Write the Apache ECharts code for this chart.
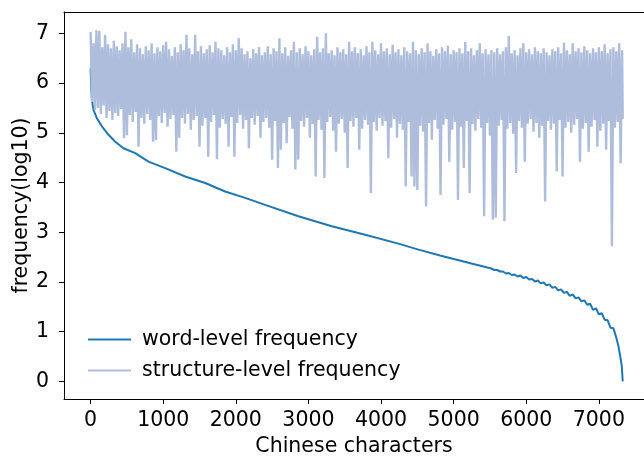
<!DOCTYPE html>
<html>
<head>
<meta charset="utf-8">
<script src="https://cdn.jsdelivr.net/npm/echarts@6/dist/echarts.min.js"></script>
<style>
html,body{margin:0;padding:0;background:#fff;}
#c{width:644px;height:458px;}
</style>
</head>
<body>
<div id="c"></div>
<script>
// ---- data ----
const xTicks = [0, 1000, 2000, 3000, 4000, 5000, 6000, 7000];
const yTicks = [0, 1, 2, 3, 4, 5, 6, 7];
const seriesNames = ['word-level frequency', 'structure-level frequency'];
const xTitle = 'Chinese characters';
const yTitle = 'frequency(log10)';

// word-level frequency (sorted, log10) – character rank vs value
const wordIdx = [0, 8, 18, 40, 87, 156, 246, 339, 453, 614, 797, 1027, 1302, 1578, 1853, 2128, 2404, 2862, 3322, 3781, 4239, 4515, 4813, 5272,
  5520, 5560, 5600, 5640, 5680, 5720, 5760, 5800, 5840, 5880, 5920, 5960, 6000, 6040, 6080, 6120, 6160, 6200, 6240, 6280,
  6320, 6360, 6400, 6440, 6480, 6520, 6560, 6600, 6640, 6680, 6720, 6760, 6800, 6840, 6880, 6920, 6960, 7000, 7040, 7080,
  7120, 7160, 7200, 7240, 7268, 7295, 7315, 7329];
const wordVal = [6.30, 5.93, 5.66, 5.46, 5.29, 5.13, 4.96, 4.82, 4.69, 4.59, 4.42, 4.29, 4.12, 3.99, 3.82, 3.69, 3.55, 3.32, 3.12, 2.95, 2.77, 2.65, 2.53, 2.36,
  2.27, 2.24, 2.24, 2.21, 2.21, 2.17, 2.18, 2.14, 2.15, 2.11, 2.13, 2.08, 2.10, 2.05, 2.06, 2.01, 2.03, 1.97, 1.99, 1.93,
  1.95, 1.88, 1.90, 1.83, 1.85, 1.78, 1.80, 1.72, 1.75, 1.67, 1.69, 1.61, 1.63, 1.54, 1.56, 1.44, 1.47, 1.35, 1.37, 1.24,
  1.23, 1.08, 1.07, 0.88, 0.72, 0.50, 0.32, 0.00];

// structure-level frequency: upper / lower envelope per block of 40 characters
const structStep = 40;
const structLast = 7329;
const structHigh = [
  7.03, 6.80, 7.06, 7.05, 6.72, 6.97, 6.78, 6.70, 6.85, 6.74,
  6.66, 6.80, 7.03, 6.72, 6.88, 6.62, 6.78, 6.70, 6.58, 6.74,
  6.66, 6.80, 6.60, 6.72, 6.64, 6.76, 6.83, 6.68, 6.55, 6.72,
  6.62, 6.78, 6.66, 6.97, 6.70, 6.58, 6.97, 6.64, 6.74, 6.60,
  6.68, 6.76, 6.62, 6.83, 6.70, 6.66, 6.56, 6.72, 6.62, 6.78,
  6.66, 6.90, 6.70, 6.58, 6.64, 6.50, 6.68, 6.60, 6.72, 6.56,
  6.62, 6.74, 6.58, 6.70, 6.64, 6.90, 6.60, 6.72, 6.55, 6.66,
  6.83, 6.62, 6.70, 6.58, 6.74, 6.64, 6.56, 6.68, 6.93, 6.62,
  6.70, 7.00, 6.60, 6.66, 6.56, 6.72, 6.62, 6.68, 6.58, 6.83,
  6.64, 6.72, 6.60, 6.68, 6.56, 6.74, 6.62, 6.83, 6.66, 6.58,
  6.80, 6.64, 6.70, 6.58, 6.77, 6.62, 6.68, 6.56, 6.72, 6.64,
  6.60, 6.83, 6.66, 6.58, 6.70, 6.62, 6.80, 6.64, 6.55, 6.68,
  6.60, 6.72, 6.64, 6.75, 6.58, 6.66, 6.62, 6.70, 6.60, 6.83,
  6.64, 6.70, 6.56, 6.66, 6.80, 6.60, 6.68, 6.58, 6.66, 6.62,
  6.70, 6.58, 6.64, 6.72, 6.95, 6.60, 6.66, 6.56, 6.70, 6.80,
  6.62, 6.68, 6.58, 6.72, 6.64, 6.60, 6.70, 6.62, 6.56, 6.68,
  6.64, 6.72, 6.60, 6.81, 6.66, 6.58, 6.80, 6.64, 6.70, 6.62,
  6.74, 6.66, 6.60, 6.70, 6.62, 6.72, 6.64, 6.78, 6.60, 6.68,
  6.72, 6.64, 6.80, 6.66
];
const structLow = [
  5.62, 5.46, 5.50, 5.38, 5.55, 5.30, 5.44, 5.26, 5.40, 5.34,
  5.48, 4.89, 4.95, 5.36, 5.22, 5.42, 4.72, 5.30, 5.18, 5.38,
  5.26, 4.82, 4.85, 5.34, 5.20, 5.40, 5.12, 5.28, 5.36, 4.62,
  4.90, 5.30, 5.18, 5.38, 5.06, 5.26, 5.34, 4.72, 5.14, 5.30,
  4.52, 5.22, 5.36, 4.47, 5.10, 5.28, 5.18, 4.72, 5.32, 4.52,
  5.20, 5.36, 5.08, 5.26, 4.69, 5.30, 5.16, 5.34, 4.90, 5.22,
  5.30, 5.10, 4.46, 5.24, 4.29, 4.66, 5.20, 4.79, 5.32, 5.08,
  4.26, 4.46, 5.24, 5.12, 5.30, 4.90, 5.18, 4.12, 5.26, 5.06,
  4.09, 5.22, 5.32, 5.04, 4.62, 5.18, 5.28, 5.00, 4.29, 5.24,
  5.12, 5.30, 4.66, 5.08, 5.26, 5.16, 3.79, 5.22, 5.04, 5.30,
  5.14, 5.24, 4.49, 5.10, 5.28, 4.90, 5.18, 5.06, 3.92, 5.22,
  4.12, 3.92, 3.85, 5.14, 5.02, 3.52, 5.20, 4.86, 5.26, 5.08,
  3.75, 5.16, 5.28, 4.42, 5.06, 5.22, 3.65, 5.12, 4.29, 5.24,
  3.79, 5.18, 5.04, 5.28, 5.10, 3.32, 5.20, 4.94, 3.25, 3.29,
  5.14, 5.26, 3.22, 5.08, 5.20, 4.98, 4.19, 5.24, 5.10, 4.42,
  5.18, 5.28, 5.02, 5.20, 4.90, 5.14, 3.62, 5.24, 5.06, 5.18,
  4.22, 5.26, 4.12, 5.10, 5.22, 5.00, 5.16, 5.28, 4.42, 5.08,
  5.20, 4.62, 5.12, 5.26, 4.72, 5.04, 5.18, 4.66, 5.24, 2.72,
  5.10, 5.22, 4.39, 5.28
];

// ---- build series data ----
const wordData = wordIdx.map((x, i) => [x, wordVal[i]]);
const structData = [];
structHigh.forEach((h, i) => {
  structData.push([Math.min(i * structStep, structLast), h]);
  structData.push([Math.min(i * structStep + structStep / 2, structLast), structLow[i]]);
});

const FONT = 'DejaVu Sans';
const FS = 20.5;
const xMin = -366.5, xMax = 7622;
const yMin = -0.355, yMax = 7.43;

const chart = echarts.init(document.getElementById('c'), null, {renderer: 'canvas'});
chart.setOption({
  animation: false,
  backgroundColor: '#fff',
  grid: {left: 64, right: 0, top: 12, bottom: 59, containLabel: false, outerBoundsMode: 'none'},
  legend: {
    orient: 'vertical',
    left: 83,
    top: 324,
    itemWidth: 43,
    itemHeight: 2,
    itemGap: 10,
    icon: 'rect',
    data: seriesNames,
    textStyle: {fontFamily: FONT, fontSize: FS, color: '#000', padding: [0, 0, 0, 6]}
  },
  xAxis: [{
    type: 'value', min: xMin, max: xMax,
    name: xTitle, nameLocation: 'middle', nameGap: 37, nameMoveOverlap: false,
    nameTextStyle: {fontFamily: FONT, fontSize: FS, color: '#000'},
    axisLine: {show: true, onZero: false, lineStyle: {color: '#000', width: 1}},
    axisTick: {show: true, length: 5, lineStyle: {color: '#000', width: 1}, customValues: xTicks},
    axisLabel: {fontFamily: FONT, fontSize: FS, color: '#000', margin: 11, customValues: xTicks,
      formatter: v => String(v)},
    splitLine: {show: false}
  }, {
    type: 'value', position: 'top', min: xMin, max: xMax,
    axisLine: {show: true, onZero: false, lineStyle: {color: '#000', width: 1}},
    axisTick: {show: false}, axisLabel: {show: false}, splitLine: {show: false}
  }],
  yAxis: {
    type: 'value', min: yMin, max: yMax,
    name: yTitle, nameLocation: 'middle', nameGap: 32, nameMoveOverlap: false,
    nameTextStyle: {fontFamily: FONT, fontSize: FS, color: '#000'},
    axisLine: {show: true, onZero: false, lineStyle: {color: '#000', width: 1}},
    axisTick: {show: true, length: 5, lineStyle: {color: '#000', width: 1}, customValues: yTicks},
    axisLabel: {fontFamily: FONT, fontSize: FS, color: '#000', margin: 15, customValues: yTicks},
    splitLine: {show: false}
  },
  series: [{
    name: seriesNames[0], type: 'line', data: wordData, xAxisIndex: 0,
    showSymbol: false, symbol: 'none',
    lineStyle: {color: '#1f77b4', width: 2},
    itemStyle: {color: '#1f77b4'}
  }, {
    name: seriesNames[1], type: 'line', data: structData, xAxisIndex: 0,
    showSymbol: false, symbol: 'none',
    lineStyle: {color: '#aebddc', width: 2.4},
    itemStyle: {color: '#aebddc'}
  }]
});
</script>
</body>
</html>
